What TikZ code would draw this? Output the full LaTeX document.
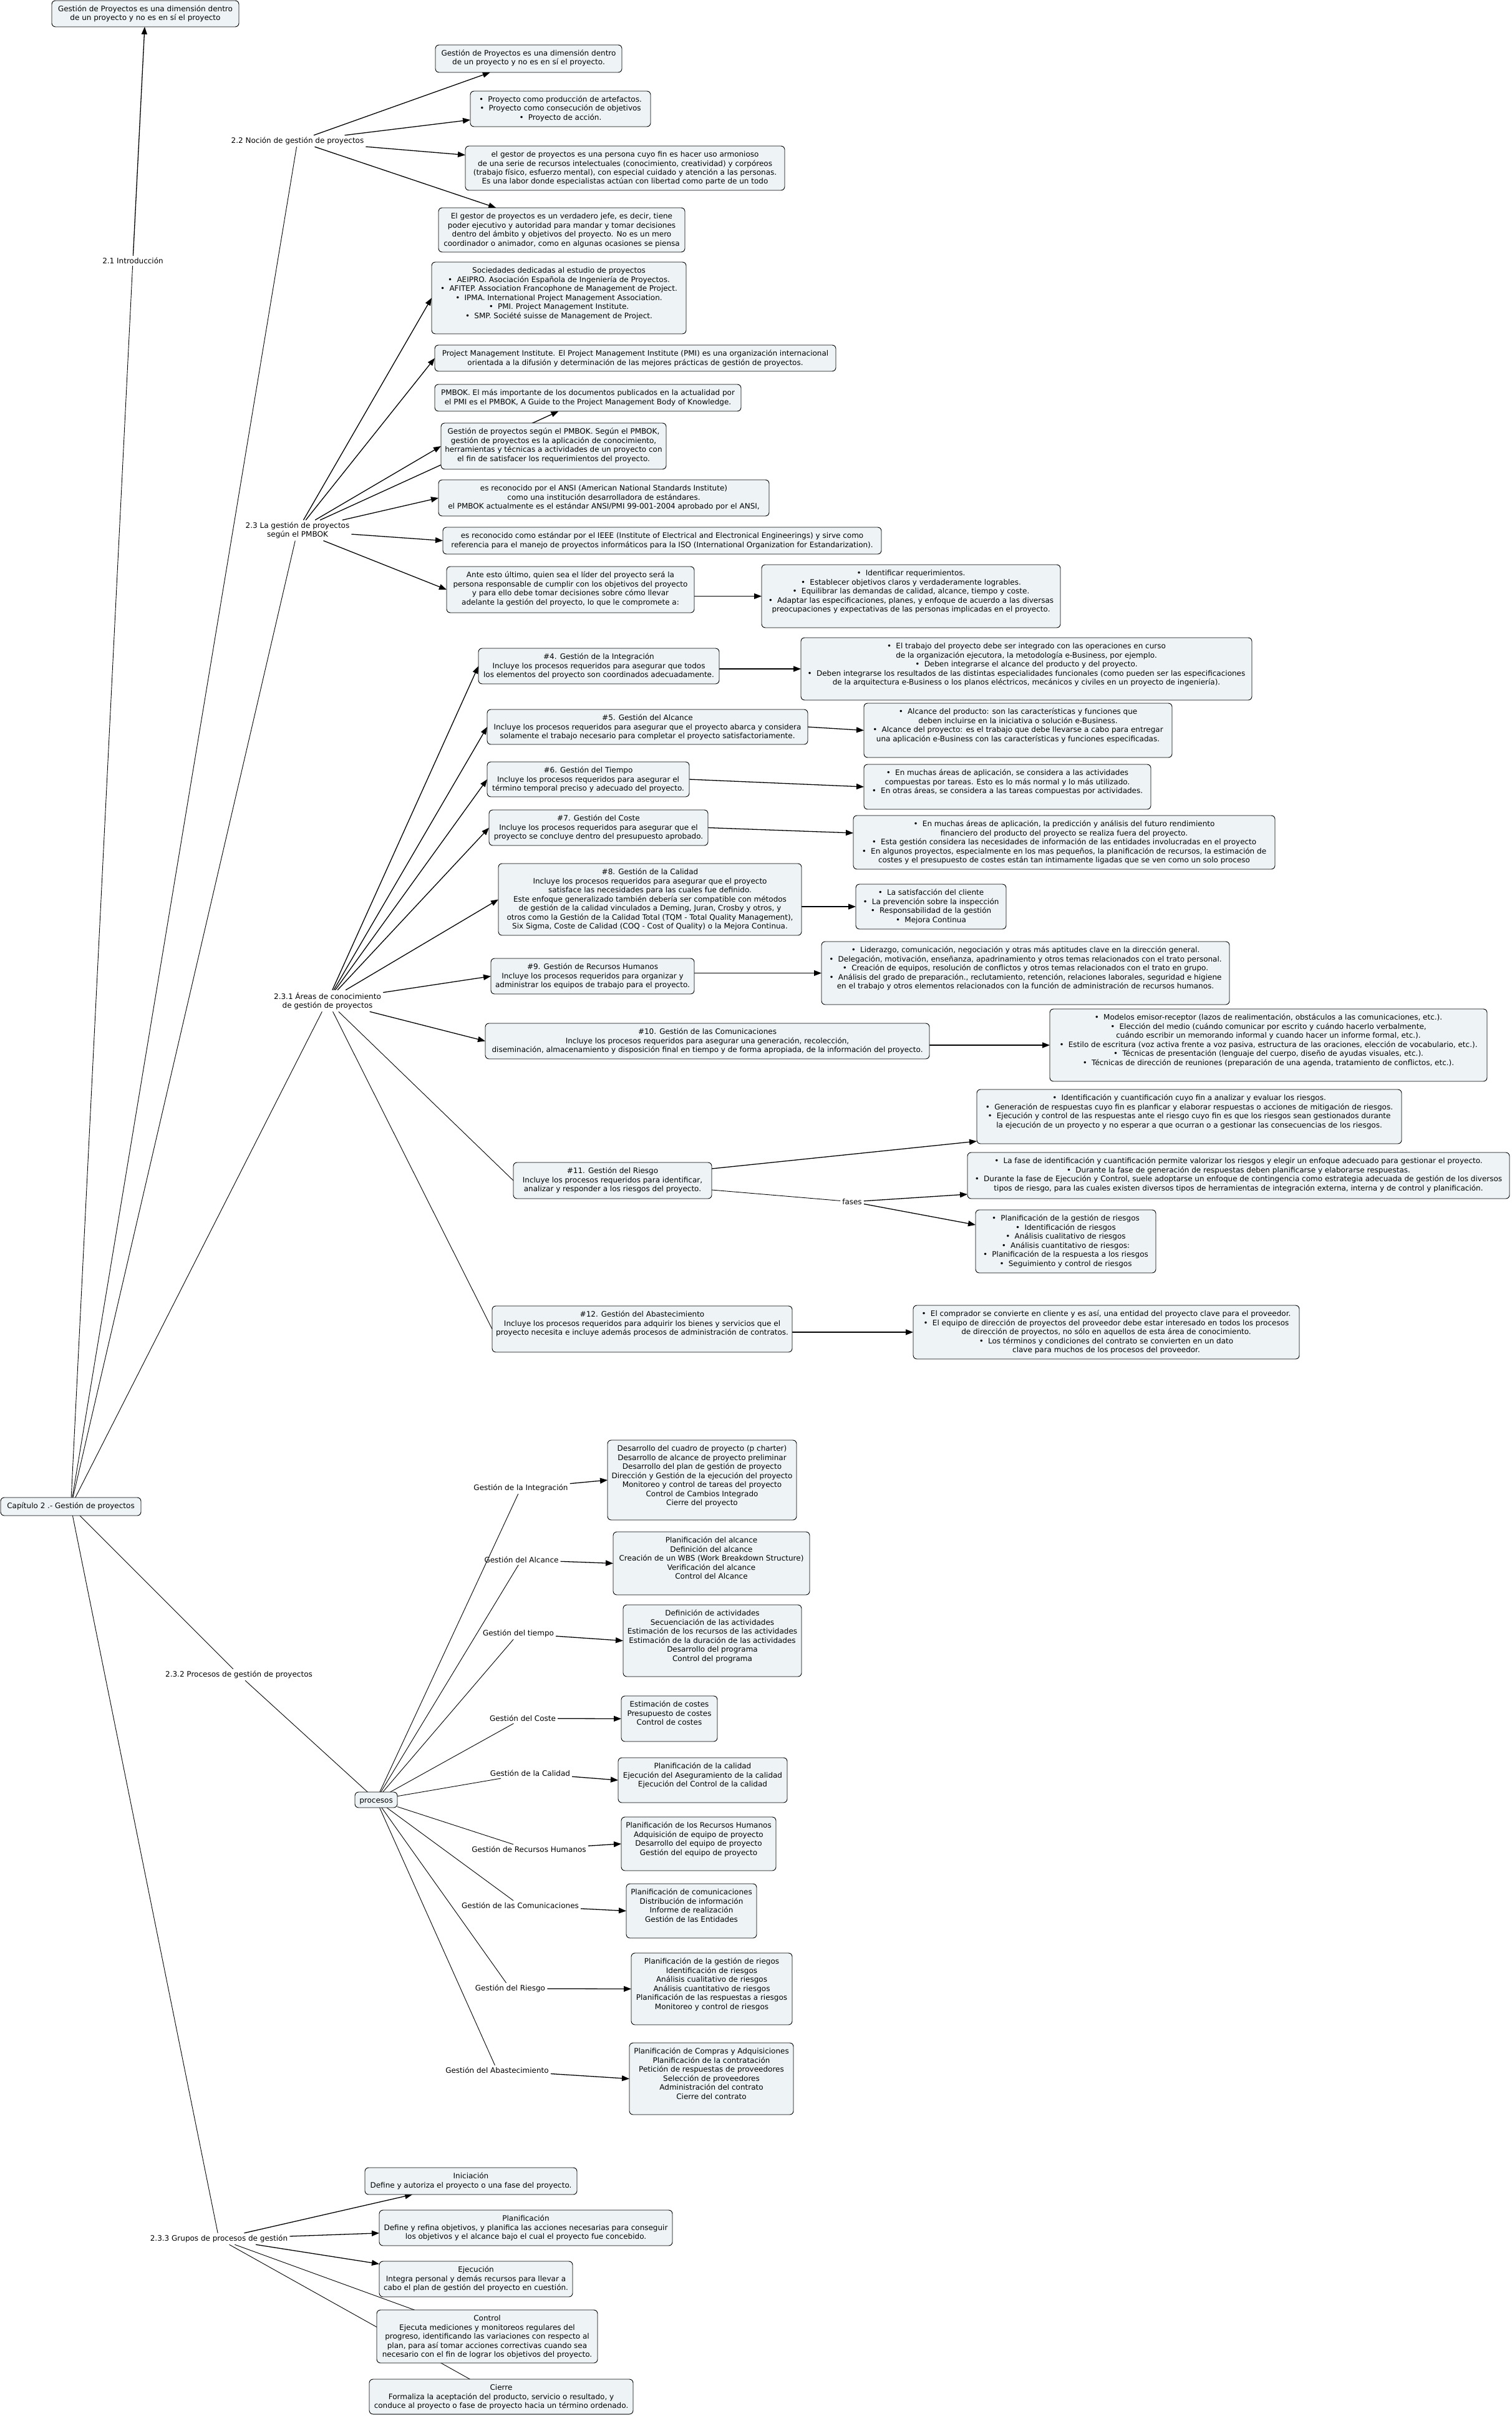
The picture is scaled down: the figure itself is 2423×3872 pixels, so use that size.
\documentclass[tikz,border=0pt]{standalone}
\usepackage{fontspec}
\setmainfont{DejaVu Sans}
\usetikzlibrary{arrows.meta,backgrounds}
\definecolor{boxfill}{RGB}{238,244,246}
\newcommand\bul{•\hspace{0.6em}}
\newlength\bxpad \setlength\bxpad{7pt}
\newcommand\myboxinner[2]{\vbox to #1{\baselineskip14.5pt\lineskiplimit-100pt\vskip\bxpad\let\\\cr\halign{\hfil\vrule height10.5pt depth4pt width0pt##\hfil\cr#2\crcr}\vfil}}
\newcommand\mybox[6]{\node[cbx, minimum width={#4pt-#2pt}, minimum height={#5pt-#3pt}] (#1) at ({(#2+#4)/2},{(#3+#5)/2}) {\myboxinner{\dimexpr#5pt-#3pt\relax}{#6}};}
\tikzset{
  cbx/.style={draw=black, line width=0.9pt, fill=boxfill, rounded corners=6pt, inner sep=0pt, outer sep=0pt, font=\fontsize{12}{14.5}\selectfont},
  lbl/.style={font=\fontsize{12}{14.5}\selectfont, align=center, inner sep=3pt},
  ln/.style={line width=0.9pt},
  ar/.style={line width=1.3pt, -{Triangle[length=12pt,width=9pt]}},
}
\begin{document}
\begin{tikzpicture}[x=1pt,y=-1pt]
\useasboundingbox (0,0) rectangle (2423,3872);
\begin{pgfonlayer}{background}\fill[white] (0,0) rectangle (2423,3872);\end{pgfonlayer}

% ---------- concepts ----------
\mybox{N0}{83}{1}{383}{43}{Gestión de Proyectos es una dimensión dentro\\de un proyecto y no es en sí el proyecto}
\mybox{B1}{698}{72}{997}{116}{Gestión de Proyectos es una dimensión dentro\\de un proyecto y no es en sí el proyecto.}
\mybox{B2}{754}{146}{1043}{203}{\bul Proyecto como producción de artefactos.\\\bul Proyecto como consecución de objetivos\\\bul Proyecto de acción.}
\mybox{B3}{746}{234}{1258}{305}{el gestor de proyectos es una persona cuyo fin es hacer uso armonioso\\de una serie de recursos intelectuales (conocimiento, creatividad) y corpóreos\\(trabajo físico, esfuerzo mental), con especial cuidado y atención a las personas.\\Es una labor donde especialistas actúan con libertad como parte de un todo}
\mybox{B4}{703}{333}{1098}{404}{El gestor de proyectos es un verdadero jefe, es decir, tiene\\poder ejecutivo y autoridad para mandar y tomar decisiones\\dentro del ámbito y objetivos del proyecto. No es un mero\\coordinador o animador, como en algunas ocasiones se piensa}
\mybox{C1}{692}{420}{1100}{535}{Sociedades dedicadas al estudio de proyectos\\\bul AEIPRO. Asociación Española de Ingeniería de Proyectos.\\\bul AFITEP. Association Francophone de Management de Project.\\\bul IPMA. International Project Management Association.\\\bul PMI. Project Management Institute.\\\bul SMP. Société suisse de Management de Project.}
\mybox{C2}{697}{553}{1340}{595}{Project Management Institute. El Project Management Institute (PMI) es una organización internacional\\orientada a la difusión y determinación de las mejores prácticas de gestión de proyectos.}
\mybox{C3}{697}{616}{1188}{659}{PMBOK. El más importante de los documentos publicados en la actualidad por\\el PMI es el PMBOK, A Guide to the Project Management Body of Knowledge.}
\mybox{C4}{707}{678}{1068}{752}{Gestión de proyectos según el PMBOK. Según el PMBOK,\\gestión de proyectos es la aplicación de conocimiento,\\herramientas y técnicas a actividades de un proyecto con\\el fin de satisfacer los requerimientos del proyecto.}
\mybox{C5}{703}{769}{1233}{827}{es reconocido por el ANSI (American National Standards Institute)\\como una institución desarrolladora de estándares.\\el PMBOK actualmente es el estándar ANSI/PMI 99-001-2004 aprobado por el ANSI,}
\mybox{C6}{710}{845}{1413}{888}{es reconocido como estándar por el IEEE (Institute of Electrical and Electronical Engineerings) y sirve como\\referencia para el manejo de proyectos informáticos para la ISO (International Organization for Estandarization).}
\mybox{Ante}{716}{908}{1113}{982}{Ante esto último, quien sea el líder del proyecto será la\\persona responsable de cumplir con los objetivos del proyecto\\y para ello debe tomar decisiones sobre cómo llevar\\adelante la gestión del proyecto, lo que le compromete a:}
\mybox{D1}{1221}{905}{1700}{1006}{\bul Identificar requerimientos.\\\bul Establecer objetivos claros y verdaderamente logrables.\\\bul Equilibrar las demandas de calidad, alcance, tiempo y coste.\\\bul Adaptar las especificaciones, planes, y enfoque de acuerdo a las diversas\\preocupaciones y expectativas de las personas implicadas en el proyecto.}

\mybox{E4}{767}{1039}{1153}{1096}{\#4. Gestión de la Integración\\Incluye los procesos requeridos para asegurar que todos\\los elementos del proyecto son coordinados adecuadamente.}
\mybox{F4}{1284}{1022}{2007}{1122}{\bul El trabajo del proyecto debe ser integrado con las operaciones en curso\\de la organización ejecutora, la metodología e-Business, por ejemplo.\\\bul Deben integrarse el alcance del producto y del proyecto.\\\bul Deben integrarse los resultados de las distintas especialidades funcionales (como pueden ser las especificaciones\\de la arquitectura e-Business o los planos eléctricos, mecánicos y civiles en un proyecto de ingeniería).}
\mybox{E5}{781}{1137}{1295}{1193}{\#5. Gestión del Alcance\\Incluye los procesos requeridos para asegurar que el proyecto abarca y considera\\solamente el trabajo necesario para completar el proyecto satisfactoriamente.}
\mybox{F5}{1385}{1127}{1879}{1214}{\bul Alcance del producto: son las características y funciones que\\deben incluirse en la iniciativa o solución e-Business.\\\bul Alcance del proyecto: es el trabajo que debe llevarse a cabo para entregar\\una aplicación e-Business con las características y funciones especificadas.}
\mybox{E6}{781}{1221}{1105}{1277}{\#6. Gestión del Tiempo\\Incluye los procesos requeridos para asegurar el\\término temporal preciso y adecuado del proyecto.}
\mybox{F6}{1385}{1225}{1845}{1297}{\bul En muchas áreas de aplicación, se considera a las actividades\\compuestas por tareas. Esto es lo más normal y lo más utilizado.\\\bul En otras áreas, se considera a las tareas compuestas por actividades.}
\mybox{E7}{784}{1298}{1135}{1355}{\#7. Gestión del Coste\\Incluye los procesos requeridos para asegurar que el\\proyecto se concluye dentro del presupuesto aprobado.}
\mybox{F7}{1368}{1307}{2044}{1393}{\bul En muchas áreas de aplicación, la predicción y análisis del futuro rendimiento\\financiero del producto del proyecto se realiza fuera del proyecto.\\\bul Esta gestión considera las necesidades de información de las entidades involucradas en el proyecto\\\bul En algunos proyectos, especialmente en los mas pequeños, la planificación de recursos, la estimación de\\costes y el presupuesto de costes están tan íntimamente ligadas que se ven como un solo proceso}
\mybox{E8}{799}{1384}{1285}{1499}{\#8. Gestión de la Calidad\\Incluye los procesos requeridos para asegurar que el proyecto\\satisface las necesidades para las cuales fue definido.\\Este enfoque generalizado también debería ser compatible con métodos\\de gestión de la calidad vinculados a Deming, Juran, Crosby y otros, y\\otros como la Gestión de la Calidad Total (TQM - Total Quality Management),\\Six Sigma, Coste de Calidad (COQ - Cost of Quality) o la Mejora Continua.}
\mybox{F8}{1372}{1417}{1613}{1489}{\bul La satisfacción del cliente\\\bul La prevención sobre la inspección\\\bul Responsabilidad de la gestión\\\bul Mejora Continua}
\mybox{E9}{787}{1536}{1113}{1593}{\#9. Gestión de Recursos Humanos\\Incluye los procesos requeridos para organizar y\\administrar los equipos de trabajo para el proyecto.}
\mybox{F9}{1317}{1509}{1971}{1610}{\bul Liderazgo, comunicación, negociación y otras más aptitudes clave en la dirección general.\\\bul Delegación, motivación, enseñanza, apadrinamiento y otros temas relacionados con el trato personal.\\\bul Creación de equipos, resolución de conflictos y otros temas relacionados con el trato en grupo.\\\bul Análisis del grado de preparación., reclutamiento, retención, relaciones laborales, seguridad e higiene\\en el trabajo y otros elementos relacionados con la función de administración de recursos humanos.}
\mybox{E10}{778}{1640}{1490}{1697}{\#10. Gestión de las Comunicaciones\\Incluye los procesos requeridos para asegurar una generación, recolección,\\diseminación, almacenamiento y disposición final en tiempo y de forma apropiada, de la información del proyecto.}
\mybox{F10}{1683}{1617}{2384}{1733}{\bul Modelos emisor-receptor (lazos de realimentación, obstáculos a las comunicaciones, etc.).\\\bul Elección del medio (cuándo comunicar por escrito y cuándo hacerlo verbalmente,\\cuándo escribir un memorando informal y cuando hacer un informe formal, etc.).\\\bul Estilo de escritura (voz activa frente a voz pasiva, estructura de las oraciones, elección de vocabulario, etc.).\\\bul Técnicas de presentación (lenguaje del cuerpo, diseño de ayudas visuales, etc.).\\\bul Técnicas de dirección de reuniones (preparación de una agenda, tratamiento de conflictos, etc.).}
\mybox{F11a}{1566}{1746}{2247}{1833}{\bul Identificación y cuantificación cuyo fin a analizar y evaluar los riesgos.\\\bul Generación de respuestas cuyo fin es planficar y elaborar respuestas o acciones de mitigación de riesgos.\\\bul Ejecución y control de las respuestas ante el riesgo cuyo fin es que los riesgos sean gestionados durante\\la ejecución de un proyecto y no esperar a que ocurran o a gestionar las consecuencias de los riesgos.}
\mybox{E11}{823}{1863}{1141}{1921}{\#11. Gestión del Riesgo\\Incluye los procesos requeridos para identificar,\\analizar y responder a los riesgos del proyecto.}
\mybox{F11b}{1551}{1847}{2420}{1921}{\bul La fase de identificación y cuantificación permite valorizar los riesgos y elegir un enfoque adecuado para gestionar el proyecto.\\\bul Durante la fase de generación de respuestas deben planificarse y elaborarse respuestas.\\\bul Durante la fase de Ejecución y Control, suele adoptarse un enfoque de contingencia como estrategia adecuada de gestión de los diversos\\tipos de riesgo, para las cuales existen diversos tipos de herramientas de integración externa, interna y de control y planificación.}
\mybox{F11c}{1564}{1939}{1853}{2040}{\bul Planificación de la gestión de riesgos\\\bul Identificación de riesgos\\\bul Análisis cualitativo de riesgos\\\bul Análisis cuantitativo de riesgos:\\\bul Planificación de la respuesta a los riesgos\\\bul Seguimiento y control de riesgos}
\mybox{E12}{789}{2093}{1270}{2167}{\#12. Gestión del Abastecimiento\\Incluye los procesos requeridos para adquirir los bienes y servicios que el\\proyecto necesita e incluye además procesos de administración de contratos.}
\mybox{F12}{1464}{2092}{2083}{2178}{\bul El comprador se convierte en cliente y es así, una entidad del proyecto clave para el proveedor.\\\bul El equipo de dirección de proyectos del proveedor debe estar interesado en todos los procesos\\de dirección de proyectos, no sólo en aquellos de esta área de conocimiento.\\\bul Los términos y condiciones del contrato se convierten en un dato\\clave para muchos de los procesos del proveedor.}

\mybox{Cap}{1}{2400}{226}{2429}{Capítulo 2 .- Gestión de proyectos}
\mybox{proc}{569}{2872}{637}{2897}{procesos}
\mybox{P1}{974}{2308}{1277}{2436}{Desarrollo del cuadro de proyecto (p charter)\\Desarrollo de alcance de proyecto preliminar\\Desarrollo del plan de gestión de proyecto\\Dirección y Gestión de la ejecución del proyecto\\Monitoreo y control de tareas del proyecto\\Control de Cambios Integrado\\Cierre del proyecto}
\mybox{P2}{983}{2455}{1298}{2556}{Planificación del alcance\\Definición del alcance\\Creación de un WBS (Work Breakdown Structure)\\Verificación del alcance\\Control del Alcance}
\mybox{P3}{999}{2572}{1285}{2687}{Definición de actividades\\Secuenciación de las actividades\\Estimación de los recursos de las actividades\\Estimación de la duración de las actividades\\Desarrollo del programa\\Control del programa}
\mybox{P4}{996}{2718}{1150}{2791}{Estimación de costes\\Presupuesto de costes\\Control de costes}
\mybox{P5}{991}{2817}{1262}{2889}{Planificación de la calidad\\Ejecución del Aseguramiento de la calidad\\Ejecución del Control de la calidad}
\mybox{P6}{996}{2912}{1244}{2998}{Planificación de los Recursos Humanos\\Adquisición de equipo de proyecto\\Desarrollo del equipo de proyecto\\Gestión del equipo de proyecto}
\mybox{P7}{1004}{3019}{1213}{3106}{Planificación de comunicaciones\\Distribución de información\\Informe de realización\\Gestión de las Entidades}
\mybox{P8}{1012}{3130}{1270}{3245}{Planificación de la gestión de riegos\\Identificación de riesgos\\Análisis cualitativo de riesgos\\Análisis cuantitativo de riesgos\\Planificación de las respuestas a riesgos\\Monitoreo y control de riesgos}
\mybox{P9}{1009}{3274}{1272}{3389}{Planificación de Compras y Adquisiciones\\Planificación de la contratación\\Petición de respuestas de proveedores\\Selección de proveedores\\Administración del contrato\\Cierre del contrato}

\mybox{G1}{585}{3474}{925}{3517}{Iniciación\\Define y autoriza el proyecto o una fase del proyecto.}
\mybox{G2}{608}{3542}{1078}{3599}{Planificación\\Define y refina objetivos, y planifica las acciones necesarias para conseguir\\los objetivos y el alcance bajo el cual el proyecto fue concebido.}
\mybox{G3}{608}{3624}{918}{3681}{Ejecución\\Integra personal y demás recursos para llevar a\\cabo el plan de gestión del proyecto en cuestión.}
\mybox{G4}{604}{3702}{958}{3787}{Control\\Ejecuta mediciones y monitoreos regulares del\\progreso, identificando las variaciones con respecto al\\plan, para así tomar acciones correctivas cuando sea\\necesario con el fin de lograr los objetivos del proyecto.}
\mybox{G5}{592}{3813}{1015}{3869}{Cierre\\Formaliza la aceptación del producto, servicio o resultado, y\\conduce al proyecto o fase de proyecto hacia un término ordenado.}

% ---------- linking phrases ----------
\node[lbl] (L21) at (213,418) {2.1 Introducción};
\node[lbl] (L22) at (477,226) {2.2 Noción de gestión de proyectos};
\node[lbl] (L23) at (477,850) {2.3 La gestión de proyectos\\según el PMBOK};
\node[lbl] (L231) at (525,1604) {2.3.1 Áreas de conocimiento\\de gestión de proyectos};
\node[lbl] (L232) at (383,2684) {2.3.2 Procesos de gestión de proyectos};
\node[lbl] (L233) at (351,3588) {2.3.3 Grupos de procesos de gestión};
\node[lbl] (fases) at (1366,1926) {fases};
\node[lbl] (Q1) at (835,2385) {Gestión de la Integración};
\node[lbl] (Q2) at (836,2500) {Gestión del Alcance};
\node[lbl] (Q3) at (831,2618) {Gestión del tiempo};
\node[lbl] (Q4) at (838,2754) {Gestión del Coste};
\node[lbl] (Q5) at (850,2842) {Gestión de la Calidad};
\node[lbl] (Q6) at (848,2964) {Gestión de Recursos Humanos};
\node[lbl] (Q7) at (834,3054) {Gestión de las Comunicaciones};
\node[lbl] (Q8) at (818,3187) {Gestión del Riesgo};
\node[lbl] (Q9) at (797,3318) {Gestión del Abastecimiento};

% ---------- connectors ----------
\begin{pgfonlayer}{background}
\draw[ln] (Cap) -- (L21);
\draw[ar] (L21) -- (N0);
\draw[ln] (Cap) -- (L22);
\draw[ar] (L22) -- (B1);
\draw[ar] (L22) -- (B2);
\draw[ar] (L22) -- (B3);
\draw[ar] (L22) -- (B4);
\draw[ln] (Cap) -- (L23);
\draw[ar] (L23) -- (C1.west);
\draw[ar] (L23) -- (C2.west);
\draw[ar] (L23) -- (C3);
\draw[ar] (L23) -- (C4.west);
\draw[ar] (L23) -- (C5.west);
\draw[ar] (L23) -- (C6.west);
\draw[ar] (L23) -- (Ante.west);
\draw[ar] (Ante.east |- D1.west) -- (D1.west);
\draw[ln] (Cap) -- (L231);
\draw[ar] (L231) -- (E4.west);
\draw[ar] (L231) -- (E5.west);
\draw[ar] (L231) -- (E6.west);
\draw[ar] (L231) -- (E7.west);
\draw[ar] (L231) -- (E8.west);
\draw[ar] (L231) -- (E9.west);
\draw[ar] (L231) -- (E10.west);
\draw[ln] (L231) -- (E11.west);
\draw[ln] (L231) -- (E12.west);
\draw[ar] (E4.east |- F4.west) -- (F4.west);
\draw[ar] (E5.east) -- (F5.west);
\draw[ar] (E6.east) -- (F6.west);
\draw[ar] (E7.east) -- ([yshift=15pt]F7.west);
\draw[ar] (E8.east |- F8.west) -- (F8.west);
\draw[ar] (E9.east |- F9.west) -- (F9.west);
\draw[ar] (E10.east |- F10.west) -- (F10.west);
\draw[ar] ([yshift=-10pt]E11.north east) -- ([yshift=4pt]F11a.south west);
\draw[ln] ([yshift=14pt]E11.south east) -- (fases);
\draw[ar] (fases) -- ([yshift=7pt]F11b.south west);
\draw[ar] (fases) -- ([yshift=-24pt]F11c.north west);
\draw[ar] (E12.east |- F12.west) -- (F12.west);
\draw[ln] (Cap) -- (L232);
\draw[ln] (L232) -- (proc);
\foreach \q/\p in {Q1/P1,Q2/P2,Q3/P3,Q4/P4,Q5/P5,Q6/P6,Q7/P7,Q8/P8,Q9/P9}{
  \draw[ln] (proc) -- (\q);
  \draw[ar] (\q) -- (\p.west);
}
\draw[ln] (Cap) -- (L233);
\draw[ar] (L233) -- (G1);
\draw[ar] (L233) -- (G2);
\draw[ar] (L233) -- (G3);
\draw[ln] (L233) -- (G4);
\draw[ln] (L233) -- (G5);
\end{pgfonlayer}
\end{tikzpicture}
\end{document}
